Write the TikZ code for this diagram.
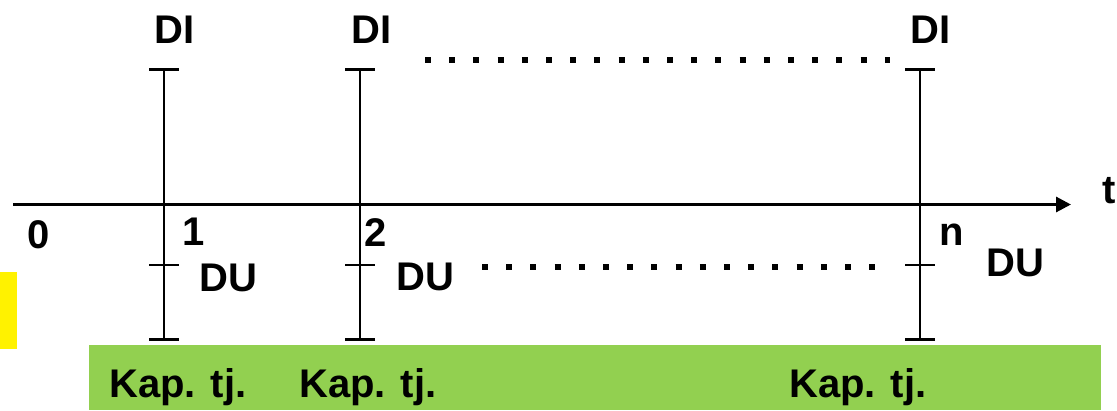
\documentclass[tikz,border=0pt]{standalone}
\usepackage{fontspec}
\setmainfont{Liberation Sans}
\usetikzlibrary{arrows.meta}
\begin{document}
\begin{tikzpicture}[x=1pt,y=-1pt,
  lbl/.style={font=\fontsize{40}{42}\selectfont\bfseries, inner sep=0pt, anchor=base west},
  mark line/.style={line width=2pt, {Bar[width=30pt,line width=2.5pt]}-{Bar[width=30pt,line width=2.5pt]}},
  tickmark/.style={line width=2pt},
  axisline/.style={line width=3pt, -{Triangle[length=15pt,width=15pt]}},
  dotrow/.style={line width=6pt, dash pattern=on 6pt off 18.2pt}]
\useasboundingbox (0,0) rectangle (1117,410);
% background boxes
\fill[yellow] (0,272) rectangle (17,349);
\fill[fill={rgb,255:red,146;green,208;blue,80}] (89,345) rectangle (1101,410);
% axis
\coordinate (a0) at (13,204.5);
\coordinate (a1) at (1071,204.5);
\draw[axisline] (a0) -- (a1);
\node[lbl] (t) at (1102,203) {t};
% vertical marks
\foreach \n/\x in {m1/164, m2/360, mn/920}{
  \coordinate (\n top) at (\x,68);
  \coordinate (\n bot) at (\x,340.5);
  \draw[mark line] (\n top) -- (\n bot);
  \coordinate (\n l) at (\x-15,265);
  \coordinate (\n r) at (\x+15,265);
  \draw[tickmark] (\n l) -- (\n r);
}
% labels
\node[lbl] (di1) at (154,43) {DI};
\node[lbl] (di2) at (351,43) {DI};
\node[lbl] (din) at (910,43) {DI};
\node[lbl] (z) at (27,248) {0};
\node[lbl] (one) at (182,245) {1};
\node[lbl] (two) at (364,246) {2};
\node[lbl] (nn) at (939,245) {n};
\node[lbl] (du1) at (199,291) {DU};
\node[lbl] (du2) at (396,290) {DU};
\node[lbl] (dun) at (986,276) {DU};
\node[lbl] (k1) at (109,397) {Kap. tj.};
\node[lbl] (k2) at (299,397) {Kap. tj.};
\node[lbl] (kn) at (789,397) {Kap. tj.};
% dotted rows
\coordinate (d1a) at (425,60);
\coordinate (d1b) at (890,60);
\draw[dotrow] (d1a) -- (d1b);
\coordinate (d2a) at (482,267);
\coordinate (d2b) at (875,267);
\draw[dotrow] (d2a) -- (d2b);
\end{tikzpicture}
\end{document}
